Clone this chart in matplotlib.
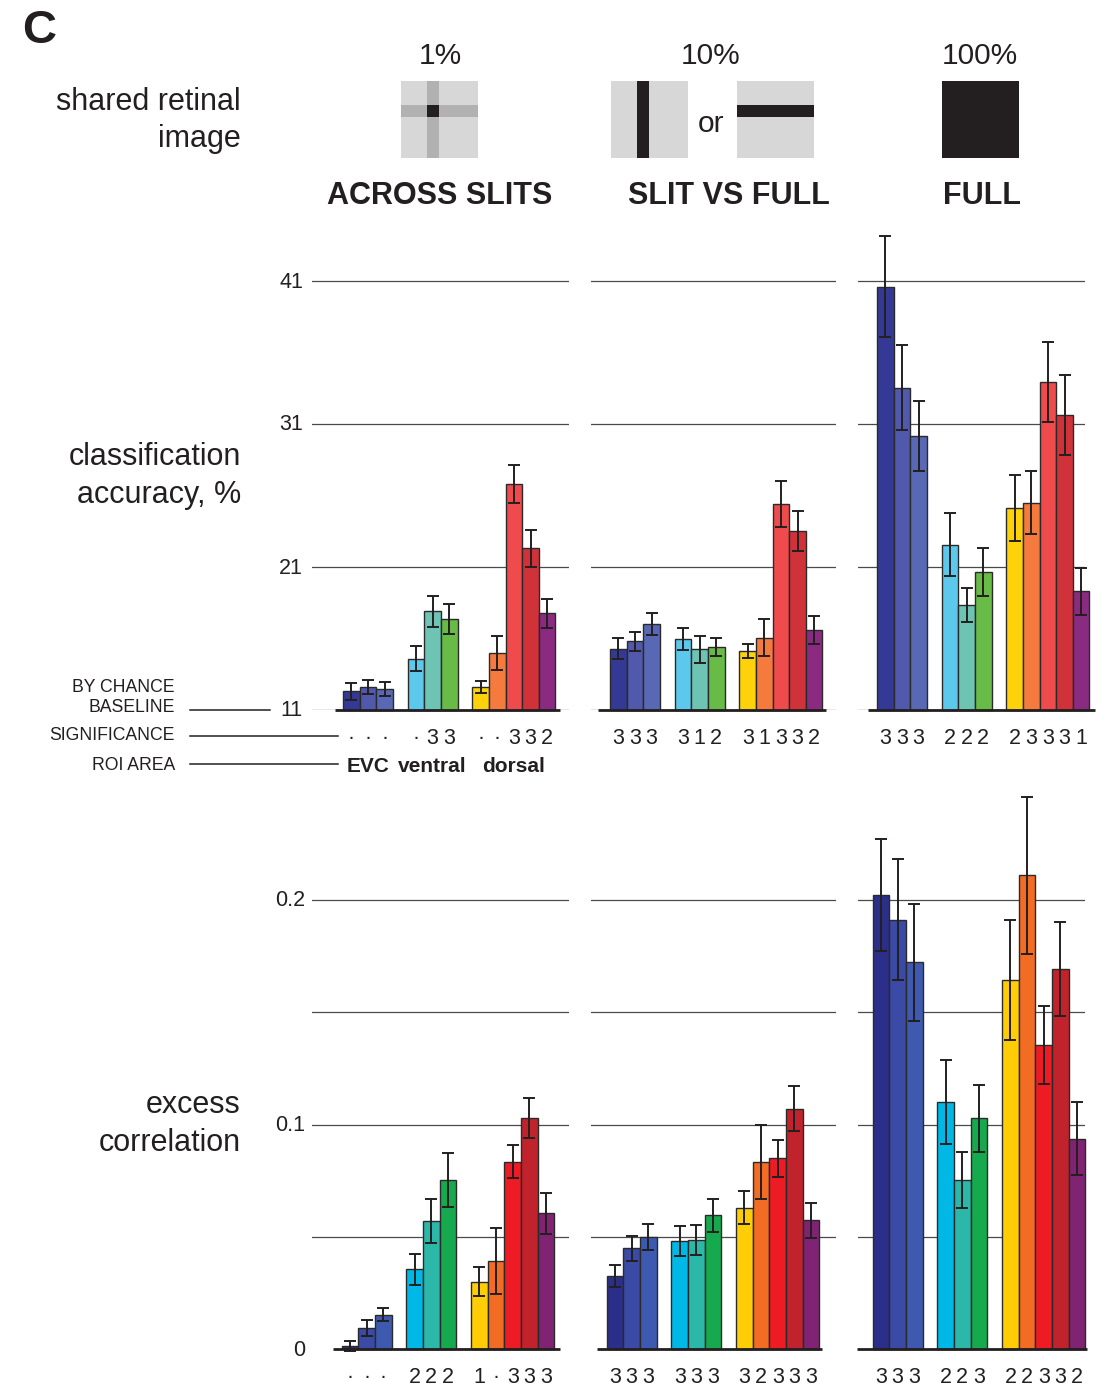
import matplotlib.pyplot as plt
from matplotlib.patches import Rectangle

plt.rcParams['font.family'] = ['Liberation Sans', 'DejaVu Sans']

# ---- data ----
groups = ["EVC", "ventral", "dorsal"]
group_sizes = [3, 3, 5]
conditions = ["ACROSS SLITS", "SLIT VS FULL", "FULL"]
shared = ["1%", "10%", "100%"]

acc_slits = [12.3, 12.6, 12.45, 14.6, 17.9, 17.35, 12.6, 15.0, 26.8, 22.3, 17.75]
acc_slits_err = [0.6, 0.5, 0.5, 0.9, 1.1, 1.05, 0.4, 1.2, 1.3, 1.3, 1.0]
acc_slitfull = [15.3, 15.8, 17.0, 15.95, 15.25, 15.4, 15.15, 16.05, 25.4, 23.5, 16.6]
acc_slitfull_err = [0.75, 0.65, 0.75, 0.75, 0.95, 0.65, 0.5, 1.3, 1.6, 1.4, 1.0]
acc_full = [40.6, 33.55, 30.15, 22.55, 18.35, 20.65, 25.15, 25.5, 33.95, 31.65, 19.3]
acc_full_err = [3.55, 2.95, 2.45, 2.2, 1.2, 1.65, 2.3, 2.2, 2.8, 2.8, 1.65]

corr_slits = [0.0013, 0.0095, 0.0153, 0.0355, 0.057, 0.0752, 0.030, 0.039, 0.0834, 0.103, 0.0604]
corr_slits_err = [0.0022, 0.0035, 0.003, 0.007, 0.010, 0.012, 0.0065, 0.0147, 0.0073, 0.009, 0.009]
corr_slitfull = [0.0325, 0.0448, 0.0498, 0.048, 0.0487, 0.0596, 0.0629, 0.0832, 0.085, 0.1071, 0.0573]
corr_slitfull_err = [0.005, 0.0057, 0.0057, 0.0067, 0.0067, 0.0073, 0.0073, 0.0166, 0.0082, 0.0099, 0.0079]
corr_full = [0.2021, 0.1912, 0.1723, 0.1101, 0.0753, 0.1027, 0.1642, 0.211, 0.1355, 0.1692, 0.0937]
corr_full_err = [0.025, 0.027, 0.026, 0.0186, 0.0124, 0.0148, 0.0267, 0.035, 0.0175, 0.021, 0.0164]

sig_acc = ["··· ·33 ··332", "333 312 31332", "333 222 23331"]
sig_corr = ["··· 222 1·333", "333 333 32333", "333 223 22332"]

acc_ticks = [11, 21, 31, 41]
corr_ticks = [0, 0.1, 0.2]
corr_grid = [0.05, 0.1, 0.15, 0.2]

colors_top = ['#333994', '#5059ab', '#5868b5', '#5bc8ec', '#6ec4b2', '#68bb46',
              '#fdd20a', '#f47a3e', '#ef4a4c', '#d0323a', '#8a2a80']
colors_bot = ['#2b2f8a', '#3a4aa5', '#3d5ab0', '#00b8e6', '#2cb8a8', '#17a94e',
              '#ffcd05', '#f26c23', '#ed1c24', '#c0232b', '#7f2372']

# ---- layout (pixels) ----
W, H = 1114, 1385
fig = plt.figure(figsize=(W / 100, H / 100), dpi=100)
unit = 16.6
panel_x = [(312, 569), (591, 836), (858, 1085)]
first_top = [343, 610, 877]
first_bot = [341.7, 606.7, 872.7]
base_top = [(335, 560), (598, 826), (868, 1095)]
base_bot = [(333, 560), (597, 822), (857, 1087)]

# bar left edges in bar units
pos = []
start = 0.0
for n in group_sizes:
    pos += [start + i for i in range(n)]
    start += n + 0.9
centers = [p + 0.5 for p in pos]


def ftext(x, y, s, **kw):
    fig.text(x / W, 1 - y / H, s, **kw)


def make_ax(x0, x1, y0, y1):
    ax = fig.add_axes([x0 / W, 1 - y1 / H, (x1 - x0) / W, (y1 - y0) / H])
    ax.set_axis_off()
    return ax


def panel(ax, vals, errs, cols, first, gx, bx, ymin, ymax, grid, sig, sig_off):
    ax.set_xlim((gx[0] - first) / unit, (gx[1] - first) / unit)
    ax.set_ylim(ymin, ymax)
    for g in grid:
        ax.axhline(g, color='#4a4a4a', lw=0.9, zorder=1)
    ax.bar(centers, [v - ymin for v in vals], bottom=ymin, width=1.0, color=cols,
           edgecolor='#2a2a2a', linewidth=1.0, zorder=2, clip_on=False)
    ax.errorbar(centers, vals, yerr=errs, fmt='none', ecolor='#231f20',
                elinewidth=1.4, capsize=4.5, capthick=1.4, zorder=3, clip_on=False)
    ax.plot([(bx[0] - first) / unit, (bx[1] - first) / unit], [ymin, ymin],
            color='#231f20', lw=2.0, zorder=4, clip_on=False, solid_capstyle='butt')
    chars = sig.replace(" ", "")
    for c, ch in zip(centers, chars):
        ax.annotate(ch, (c, ymin), xytext=(0, -sig_off), textcoords='offset points',
                    ha='center', va='center', fontsize=15.5, color='#231f20',
                    annotation_clip=False)


acc_vals = [acc_slits, acc_slitfull, acc_full]
acc_errs = [acc_slits_err, acc_slitfull_err, acc_full_err]
corr_vals = [corr_slits, corr_slitfull, corr_full]
corr_errs = [corr_slits_err, corr_slitfull_err, corr_full_err]

top_px = 14.3  # pixels per accuracy unit
bot_px = 2245  # pixels per correlation unit
for i in range(3):
    ax = make_ax(panel_x[i][0], panel_x[i][1], 225, 710)
    panel(ax, acc_vals[i], acc_errs[i], colors_top, first_top[i], panel_x[i], base_top[i],
          11, 11 + (710 - 225) / top_px, acc_ticks, sig_acc[i], 20.5)
    if i == 0:
        for c0, n, name in zip([0, 3, 6], group_sizes, groups):
            mid = (centers[c0] + centers[c0 + n - 1]) / 2
            ax.annotate(name, (mid, 11), xytext=(0, -40.5), textcoords='offset points',
                        ha='center', va='center', fontsize=15, fontweight='bold',
                        color='#231f20', annotation_clip=False)
    axb = make_ax(panel_x[i][0], panel_x[i][1], 785, 1349)
    panel(axb, corr_vals[i], corr_errs[i], colors_bot, first_bot[i], panel_x[i], base_bot[i],
          0, (1349 - 785) / bot_px, corr_grid, sig_corr[i], 20.2)

# y tick labels
for t in acc_ticks:
    ftext(303, 711 - (t - 11) * top_px, str(t), ha='right', va='center', fontsize=15.5,
          color='#231f20')
for t in corr_ticks:
    ftext(305, 1350 - t * bot_px, f"{t:g}", ha='right', va='center', fontsize=15.5,
          color='#231f20')

# left labels
ftext(22, 31, "C", fontsize=34, fontweight='bold', ha='left', va='center', color='#231f20')
for y, s in [(102, "shared retinal"), (139, "image"), (457, "classification"),
             (495, "accuracy, %"), (1105, "excess"), (1143, "correlation")]:
    ftext(241, y, s, fontsize=22, ha='right', va='center', color='#231f20')

ftext(175, 688, "BY CHANCE", fontsize=12.7, ha='right', va='center', color='#231f20')
ftext(175, 707, "BASELINE", fontsize=12.7, ha='right', va='center', color='#231f20')
ftext(175, 736, "SIGNIFICANCE", fontsize=12.7, ha='right', va='center', color='#231f20')
ftext(175, 765, "ROI AREA", fontsize=12.7, ha='right', va='center', color='#231f20')
for x0, x1, y in [(190, 270, 710), (190, 338, 736), (190, 338, 764)]:
    fig.add_artist(plt.Line2D([x0 / W, x1 / W], [1 - y / H, 1 - y / H], color='#231f20', lw=1.1))

# header
for xc, s in zip([440, 711, 980], shared):
    ftext(xc, 56, s, fontsize=21.5, ha='center', va='center', color='#231f20')
for xc, s in zip([440, 729, 982], conditions):
    ftext(xc, 196, s, fontsize=22, fontweight='bold', ha='center', va='center', color='#231f20')
ftext(711, 124, "or", fontsize=21.5, ha='center', va='center', color='#231f20')


def rect(x, y, w, h, color):
    fig.add_artist(Rectangle((x / W, 1 - (y + h) / H), w / W, h / H, color=color,
                             transform=fig.transFigure, lw=0))


light, mid, dark = '#d7d7d7', '#b0b1b0', '#231f20'
rect(401, 81, 77, 77, light)
rect(427, 81, 11.5, 77, mid)
rect(401, 105, 77, 11.5, mid)
rect(427, 105, 11.5, 11.5, dark)
rect(611, 81, 77, 77, light)
rect(637, 81, 11.5, 77, dark)
rect(737, 81, 77, 77, light)
rect(737, 105, 77, 11.5, dark)
rect(942, 81, 77, 77, dark)

fig.savefig("out.png", dpi=100)
